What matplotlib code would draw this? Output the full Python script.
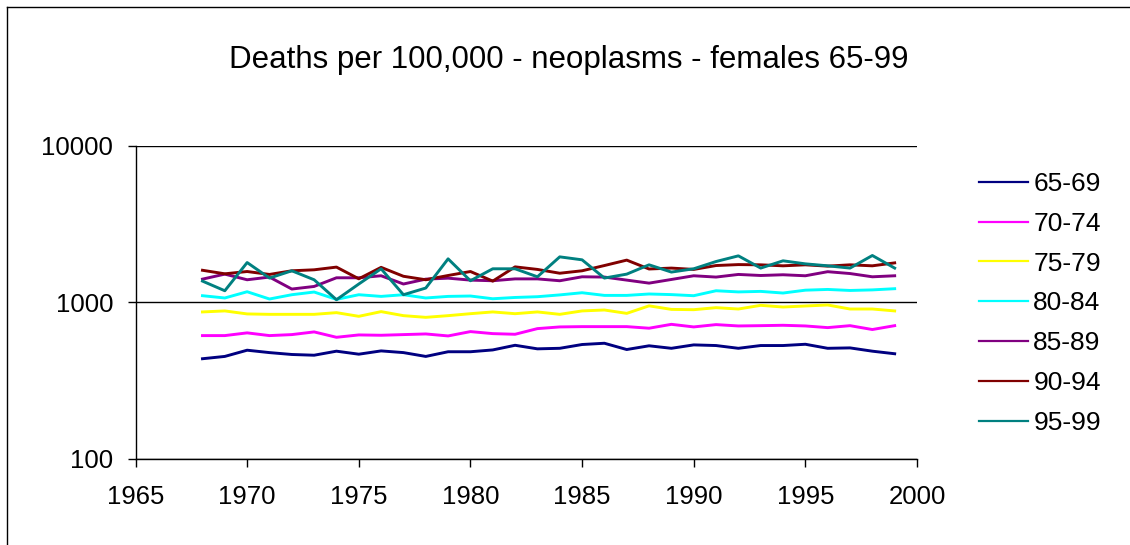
import numpy as np
import matplotlib.pyplot as plt
from matplotlib.lines import Line2D
plt.rcParams.update({'font.family': 'Liberation Sans', 'font.size': 18})

years = list(range(1968, 2000))

# deaths per 100,000
f65_69 = [434, 449, 492, 475, 462, 457, 485, 464, 487, 475, 449, 481, 481, 494, 529, 502,
          506, 535, 545, 497, 525, 506, 532, 527, 506, 527, 527, 537, 506, 509, 485, 467]
f70_74 = [610, 610, 635, 610, 619, 644, 595, 616, 613, 619, 625, 607, 647, 628, 622, 676,
          693, 696, 696, 696, 680, 720, 693, 717, 703, 706, 710, 703, 686, 706, 667, 706]
f75_79 = [864, 877, 839, 834, 834, 834, 855, 810, 868, 818, 798, 818, 842, 864, 842, 864,
          834, 877, 889, 846, 945, 897, 893, 920, 902, 952, 929, 943, 957, 902, 902, 877]
f80_84 = [1097, 1061, 1163, 1045, 1113, 1158, 1039, 1113, 1086, 1113, 1061, 1086, 1092, 1049, 1069, 1081,
          1110, 1146, 1102, 1102, 1125, 1115, 1097, 1180, 1160, 1169, 1141, 1190, 1203, 1185, 1195, 1216]
f85_89 = [1400, 1507, 1387, 1443, 1210, 1257, 1428, 1428, 1471, 1303, 1400, 1420, 1380, 1367, 1405, 1405,
          1367, 1449, 1443, 1380, 1320, 1393, 1471, 1443, 1500, 1477, 1493, 1471, 1562, 1520, 1449, 1471]
f90_94 = [1595, 1514, 1566, 1500, 1583, 1606, 1671, 1407, 1665, 1460, 1387, 1477, 1566, 1360, 1677, 1615,
          1527, 1583, 1710, 1852, 1625, 1647, 1615, 1710, 1734, 1728, 1703, 1728, 1695, 1728, 1703, 1778]
f95_99 = [1360, 1180, 1787, 1422, 1583, 1387, 1034, 1303, 1630, 1113, 1228, 1887, 1367, 1630, 1630, 1449,
          1943, 1860, 1422, 1507, 1728, 1553, 1630, 1814, 1972, 1647, 1833, 1753, 1703, 1647, 1982, 1647]

labels = ['65-69', '70-74', '75-79', '80-84', '85-89', '90-94', '95-99']
series = [f65_69, f70_74, f75_79, f80_84, f85_89, f90_94, f95_99]
colors = ['#000080', '#FF00FF', '#FFFF00', '#00FFFF', '#800080', '#800000', '#008080']

W, H = 1130, 545
fig = plt.figure(figsize=(W / 100, H / 100), dpi=100)
ax = fig.add_axes([135.5 / W, 1 - 458.5 / H, 781.5 / W, 313 / H])

for lab, y, c in zip(labels, series, colors):
    ax.plot(years, y, color=c, lw=2.1, label=lab)

ax.set_yscale('log')
ax.set_ylim(100, 10000)
ax.set_xlim(1965, 2000)
ax.set_xticks(range(1965, 2001, 5))
ax.set_yticks([100, 1000, 10000])
ax.set_yticklabels(['100', '1000', '10000'])
ax.minorticks_off()
ax.tick_params(direction='out', length=6, width=1, colors='black', labelsize=18.5)
ax.tick_params(axis='x', pad=13)
ax.tick_params(axis='y', pad=10)
ax.grid(axis='y', which='major', color='black', lw=1)
for s in ['top', 'right']:
    ax.spines[s].set_visible(False)
for s in ['left', 'bottom']:
    ax.spines[s].set_linewidth(1)

fig.text(569 / W, 1 - 60 / H, 'Deaths per 100,000 - neoplasms - females 65-99',
         fontsize=22.5, ha='center', va='center')

leg = ax.legend(loc='upper left', bbox_to_anchor=(979 / W, 1 - 172 / H),
                bbox_transform=fig.transFigure, frameon=False, fontsize=19,
                borderpad=0, borderaxespad=0,
                handlelength=1.86, labelspacing=0.6, handletextpad=0.2)
for h in leg.get_lines():
    h.set_linewidth(1.6)

# outer frame (only top and left edge visible)
fig.add_artist(Line2D([7 / W, 7 / W], [0, 1 - 7 / H], transform=fig.transFigure, color='black', lw=1))
fig.add_artist(Line2D([7 / W, 1], [1 - 7 / H, 1 - 7 / H], transform=fig.transFigure, color='black', lw=1))

fig.savefig('out.png', dpi=100)
